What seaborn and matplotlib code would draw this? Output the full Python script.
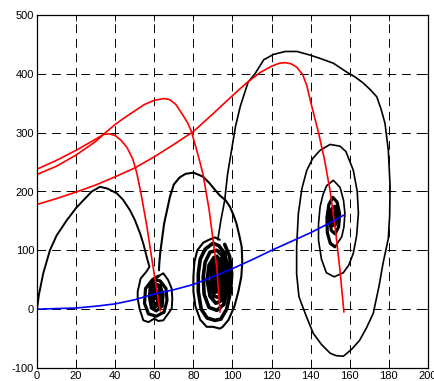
import matplotlib
matplotlib.use("Agg")
import matplotlib.pyplot as plt
import pandas as pd
import seaborn as sns

sns.set_theme(style="white")
plt.rcParams['font.family'] = ['Liberation Sans', 'DejaVu Sans']

x_ticks = [0, 20, 40, 60, 80, 100, 120, 140, 160, 180, 200]
y_ticks = [-100, 0, 100, 200, 300, 400, 500]

# blue curve through the equilibria
blue_x = [0, 10, 20, 30, 40, 50, 60, 70, 80, 90, 100, 110, 120, 130, 140, 150, 157]
blue_y = [0, 1, 2, 5, 9, 16, 26, 33, 42, 55, 69, 84, 100, 115, 130, 147, 160]

# red curves
red_a_x = [0, 10, 20, 30, 34, 37, 40, 43, 46, 49, 51, 53, 56, 59, 61.5, 63]
red_a_y = [238, 253, 270, 289, 297, 298, 295, 287, 275, 255, 232, 200, 145, 80, 27, -3]

red_b_x = [0, 10, 20, 30, 35, 40, 45, 50, 55, 60, 65, 68, 71, 74, 77, 79, 81.7, 83.5, 85, 88, 90.2, 92, 93.6]
red_b_y = [229, 243, 262, 285, 300, 314, 326, 337, 348, 355, 358, 356, 348, 333, 317, 302, 270, 248, 228, 170, 114, 70, -5]

red_c_x = [0, 10, 20, 30, 40, 50, 60, 70, 80, 90, 100, 107, 114, 120, 124, 127, 130, 133, 136, 138, 140, 142, 144, 147, 150, 153, 155, 157]
red_c_y = [178, 188, 199, 211, 225, 240, 259, 280, 302, 332, 363, 384, 402, 413, 418, 419, 417, 411, 398, 380, 352, 326, 300, 255, 200, 125, 65, -5]

# black trajectory 1: arc from origin into first spiral
arc1_x = [0, 1, 3.2, 6.6, 10, 15.2, 20, 23.7, 28, 32.2, 36, 40.8, 44, 47.6, 50, 52.7, 54.5, 56.1, 57.5, 56, 53, 51.5, 51.5, 52.5, 54.4, 57, 60, 62, 64.6, 67, 68.9, 69.2, 68.9, 67, 64.6, 62]
arc1_y = [0, 25, 61, 100, 125, 151, 172, 185, 200, 208, 205, 197, 186, 168, 152, 129, 110, 89, 72, 64, 52, 30, 18, 0, -19, -22, -16, -20, -19, -8, 1, 18, 35, 50, 61, 56]
core1_x = [62, 59, 55.5, 55, 57, 61, 65, 66.5, 66, 63, 60, 58, 57.5, 58.5, 61, 64, 64.5, 63, 60, 58.5, 58.5, 60, 62.5, 63.5, 63, 61, 59.5, 59.5, 61, 62.5, 62, 60.5, 60.5, 62, 61.5, 61]
core1_y = [56, 50, 35, 10, -8, -12, -5, 15, 35, 48, 50, 42, 20, 2, -3, 5, 25, 40, 44, 35, 15, 3, 8, 25, 36, 40, 30, 12, 8, 20, 32, 30, 18, 18, 28, 25]

# black trajectory 2: arc from first spiral into second spiral
arc2_x = [62.4, 62.5, 63, 64, 65, 66.5, 68, 70, 73, 76, 80, 83, 85, 88, 91, 93.6, 96.5, 98.7, 100.5, 102, 103.5, 104.7, 105, 104.5, 103, 101, 98, 95, 93.6, 90, 86.8, 83.5, 81, 80, 80, 80.5, 82, 85, 88, 91, 93.5]
arc2_y = [66, 75, 95, 120, 145, 168, 191, 212, 224, 230, 232, 228, 225, 215, 203, 193, 185, 174, 160, 146, 125, 106, 80, 55, 30, 5, -18, -30, -33, -30, -30, -18, 5, 30, 55, 80, 100, 113, 118, 122, 118]
core2_x = [96, 98.5, 99.6, 99, 97, 94, 91, 87, 84, 82.5, 82.5, 83.5, 86, 90, 93, 96, 97.9, 97.5, 95.5, 92, 88, 85.5, 85, 86, 88.5, 92, 94.5, 96.5, 96.5, 94.5, 91.5, 88.5, 87, 88, 90.5, 93.5, 95.5, 95, 93, 90.5, 89, 89.5, 92, 94.5, 94.5, 92.5, 90.5, 90, 91, 92.5, 93.5, 93.5, 92.5, 91.5, 91, 91.5, 92.5, 92.5, 92]
core2_y = [110, 90, 60, 30, 0, -17, -19, -15, 0, 30, 60, 85, 102, 112, 108, 95, 65, 35, 8, -2, 3, 25, 55, 80, 97, 100, 92, 70, 40, 15, 10, 22, 50, 75, 88, 85, 65, 35, 20, 22, 45, 75, 90, 78, 50, 30, 28, 50, 75, 82, 70, 45, 32, 38, 55, 70, 68, 50, 58]

# black trajectory 3: thin climb from second spiral, big loop, third spiral
arc3_x = [92.5, 94, 96, 97.5, 99.5, 101.5, 104, 108, 111.5, 116, 121, 127, 133, 139.5, 145, 151.6, 158.4, 163, 167, 170.5, 173.8, 176, 178, 179.7, 180.6, 180.4, 179.7, 177, 175, 172, 168.5, 165, 161, 156.7, 153, 150, 145.5, 141.3, 137.5, 134, 132.8, 132.8, 133.7, 135.5, 138, 141, 144.8, 149.9, 155, 158, 161.8, 163.8, 164.4, 163.5, 161.8, 159.5, 156.7, 152, 148, 145.5, 144, 144, 144.8, 146.3, 148.2, 151.6, 155, 156.8, 157.5, 157, 155.9, 152.4]
arc3_y = [118, 150, 185, 230, 270, 310, 345, 386, 400, 424, 433, 438, 438, 432, 426, 418, 403, 394, 384, 373, 361, 340, 316, 270, 210, 160, 120, 78, 40, -7, -32, -53, -68, -80, -79, -75, -60, -41, -10, 21, 60, 106, 163, 205, 236, 256, 270, 280, 277, 268, 236, 200, 163, 125, 95, 75, 62, 55, 62, 85, 117, 145, 174, 195, 210, 219, 207, 185, 163, 140, 123, 106]
core3_x = [152.4, 150, 148.5, 148.3, 149.3, 151.3, 153.5, 154.8, 154.3, 152.5, 150.5, 149.8, 150.6, 152.3, 153.3, 152.6, 151.3, 150.9, 151.8, 152.5]
core3_y = [106, 112, 130, 155, 178, 190, 182, 162, 140, 128, 134, 152, 170, 175, 160, 143, 142, 155, 165, 155]

fig = plt.figure(figsize=(4.35, 3.81), dpi=100)
ax = fig.add_axes([37 / 435, 13 / 381, 391 / 435, 353 / 381])


def draw(xs, ys, color, lw):
    df = pd.DataFrame({"x": xs, "y": ys})
    sns.lineplot(data=df, x="x", y="y", sort=False, estimator=None,
                 color=color, linewidth=lw, ax=ax)


draw(arc1_x, arc1_y, "black", 1.4)
draw(core1_x, core1_y, "black", 2.3)
draw(arc2_x, arc2_y, "black", 1.5)
draw(core2_x, core2_y, "black", 2.6)
draw(arc3_x, arc3_y, "black", 1.2)
draw(core3_x, core3_y, "black", 2.3)
draw(red_a_x, red_a_y, "#ff0000", 1.2)
draw(red_b_x, red_b_y, "#ff0000", 1.2)
draw(red_c_x, red_c_y, "#ff0000", 1.2)
draw(blue_x, blue_y, "#0000ff", 1.2)

ax.set_xlim(0, 200)
ax.set_ylim(-100, 500)
ax.set_xticks(x_ticks)
ax.set_yticks(y_ticks)
ax.set_xticklabels([str(t) for t in x_ticks])
ax.set_yticklabels([str(t) for t in y_ticks])
ax.set_xlabel("")
ax.set_ylabel("")
ax.grid(True, color="black", linestyle=(0, (9, 6)), linewidth=0.7)
ax.set_axisbelow(True)
ax.tick_params(direction="in", length=4, width=0.6, top=True, right=True,
               labelsize=8, pad=2, colors="black")
for s in ax.spines.values():
    s.set_color("black")
    s.set_linewidth(0.9)
    s.set_visible(True)

fig.savefig("out.png", dpi=100, facecolor="white")
